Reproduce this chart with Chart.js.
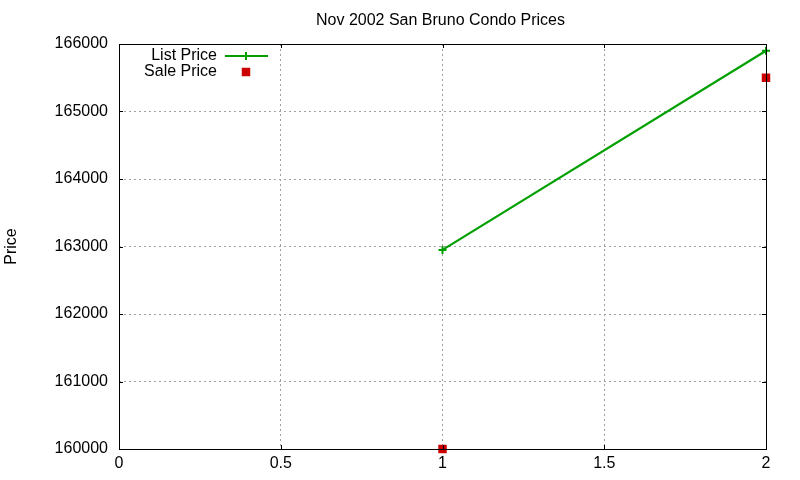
<!DOCTYPE html>
<html>
<head>
<meta charset="utf-8">
<script src="https://cdn.jsdelivr.net/npm/chart.js@4"></script>
<style>
html,body{margin:0;padding:0;background:#fff;}
#wrap{width:800px;height:480px;}
</style>
</head>
<body>
<div id="wrap"><canvas id="c" width="800" height="480"></canvas></div>
<script>
const titleText = "Nov 2002 San Bruno Condo Prices";
const yAxisLabel = "Price";
const xValues = [1, 2];
const listPrice = [162950, 165900];
const salePrice = [160000, 165500];
const seriesNames = ["List Price", "Sale Price"];
const xTicks = [0, 0.5, 1, 1.5, 2];
const yTicks = [160000, 161000, 162000, 163000, 164000, 165000, 166000];

const FONT = "'Liberation Sans', Arial, sans-serif";
const FS = 16;
const GREEN = "rgb(0,160,0)";
const RED = "rgb(204,0,0)";

const gnuplotPlugin = {
  id: 'gnuplot',
  afterDraw(chart) {
    const ctx = chart.ctx;
    const a = chart.chartArea;
    const xs = chart.scales.x, ys = chart.scales.y;
    ctx.save();
    // border box
    ctx.strokeStyle = '#000';
    ctx.lineWidth = 1;
    ctx.strokeRect(Math.round(a.left) + 0.5, Math.round(a.top) + 0.5,
      Math.round(a.right - a.left), Math.round(a.bottom - a.top));
    // tick marks inward
    ctx.beginPath();
    xTicks.forEach(v => {
      const px = Math.round(xs.getPixelForValue(v)) + 0.5;
      ctx.moveTo(px, a.bottom); ctx.lineTo(px, a.bottom - 4);
      ctx.moveTo(px, a.top); ctx.lineTo(px, a.top + 4);
    });
    yTicks.forEach(v => {
      const py = Math.round(ys.getPixelForValue(v)) + 0.5;
      ctx.moveTo(a.left, py); ctx.lineTo(a.left + 4, py);
      ctx.moveTo(a.right, py); ctx.lineTo(a.right - 4, py);
    });
    ctx.stroke();
    // title
    ctx.fillStyle = '#000';
    ctx.font = FS + 'px ' + FONT;
    ctx.textAlign = 'center';
    ctx.textBaseline = 'middle';
    ctx.fillText(titleText, (a.left + a.right) / 2 - 2, 21);
    // y axis label
    ctx.save();
    ctx.translate(12, (a.top + a.bottom) / 2);
    ctx.rotate(-Math.PI / 2);
    ctx.fillText(yAxisLabel, 0, 0);
    ctx.restore();
    // legend
    ctx.textAlign = 'right';
    const lx = 217, ly0 = 56, dy = 16;
    chart.data.datasets.forEach((ds, i) => {
      const y = ly0 + i * dy;
      ctx.fillStyle = '#000';
      ctx.fillText(ds.label, lx, y);
      const py = y;
      if (ds.showLine !== false) {
        ctx.strokeStyle = ds.borderColor;
        ctx.lineWidth = ds.borderWidth;
        ctx.beginPath();
        ctx.moveTo(225, py); ctx.lineTo(268, py);
        ctx.stroke();
      }
      ctx.fillStyle = ds.pointBackgroundColor;
      ctx.strokeStyle = ds.pointBorderColor;
      ctx.lineWidth = ds.pointBorderWidth || 1;
      ctx.beginPath();
      if (ds.pointStyle === 'rect') {
        const s = ds.pointRadius * Math.SQRT1_2;
        ctx.fillRect(246 - s, py - s, 2 * s, 2 * s);
      } else {
        ctx.moveTo(246 - ds.pointRadius, py); ctx.lineTo(246 + ds.pointRadius, py);
        ctx.moveTo(246, py - ds.pointRadius); ctx.lineTo(246, py + ds.pointRadius);
        ctx.stroke();
      }
    });
    ctx.restore();
  }
};

new Chart(document.getElementById('c'), {
  type: 'scatter',
  data: {
    datasets: [
      {
        label: seriesNames[0],
        data: xValues.map((x, i) => ({x: x, y: listPrice[i]})),
        showLine: true,
        borderColor: GREEN,
        backgroundColor: GREEN,
        borderWidth: 2.2,
        pointStyle: 'cross',
        pointRadius: 4,
        pointBorderColor: GREEN,
        pointBackgroundColor: GREEN,
        pointBorderWidth: 2,
        clip: false
      },
      {
        label: seriesNames[1],
        data: xValues.map((x, i) => ({x: x, y: salePrice[i]})),
        showLine: false,
        borderColor: RED,
        backgroundColor: RED,
        pointStyle: 'rect',
        pointRadius: 6,
        pointBorderColor: RED,
        pointBackgroundColor: RED,
        pointBorderWidth: 0,
        clip: false
      }
    ]
  },
  options: {
    responsive: false,
    animation: false,
    layout: {padding: {top: 44, right: 34, left: 0, bottom: 0}},
    plugins: {
      legend: {display: false},
      title: {display: false},
      tooltip: {enabled: false}
    },
    scales: {
      x: {
        type: 'linear',
        min: 0, max: 2,
        afterFit(s) { s.height = 31; },
        afterBuildTicks(s) { s.ticks = xTicks.map(v => ({value: v})); },
        ticks: {
          color: '#000', font: {size: FS, family: FONT}, padding: 5,
          maxRotation: 0, autoSkip: false,
          callback: v => String(v)
        },
        grid: {color: '#a0a0a0', lineWidth: 1, drawTicks: false},
        border: {display: false, dash: [2, 3]}
      },
      y: {
        type: 'linear',
        min: 160000, max: 166000,
        afterFit(s) { s.width = 119; },
        afterBuildTicks(s) { s.ticks = yTicks.map(v => ({value: v})); },
        ticks: {
          color: '#000', font: {size: FS, family: FONT}, padding: 11,
          autoSkip: false,
          callback: v => String(v)
        },
        grid: {color: '#a0a0a0', lineWidth: 1, drawTicks: false},
        border: {display: false, dash: [2, 3]}
      }
    }
  },
  plugins: [gnuplotPlugin]
});
</script>
</body>
</html>
